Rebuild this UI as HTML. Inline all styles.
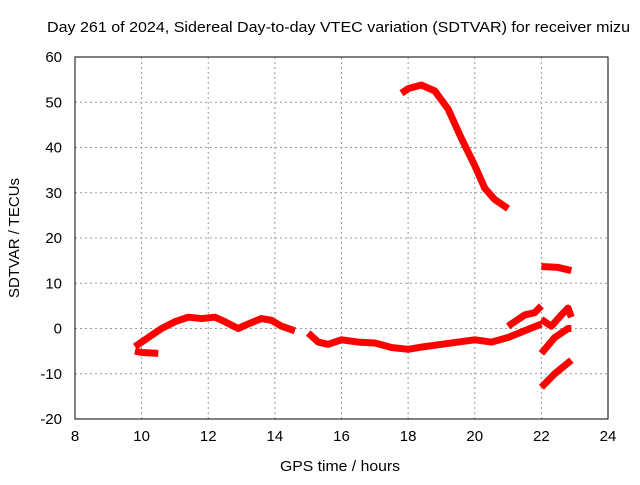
<!DOCTYPE html>
<html><head><meta charset="utf-8"><style>
body{margin:0;background:#fff}
svg text{font-family:"Liberation Sans",sans-serif;font-size:15px;fill:#000}
</style></head><body>
<svg id="chart" width="640" height="480" viewBox="0 0 640 480" xmlns="http://www.w3.org/2000/svg">
<text x="47" y="32" textLength="583" lengthAdjust="spacingAndGlyphs">Day 261 of 2024, Sidereal Day-to-day VTEC variation (SDTVAR) for receiver mizu</text>
<g id="grid"></g><g id="ticks"></g><g id="series"></g>
<rect x="75" y="57" width="533" height="362" fill="none" stroke="#000" stroke-width="1"/>
<text x="340" y="471" text-anchor="middle" textLength="120" lengthAdjust="spacingAndGlyphs">GPS time / hours</text>
<text transform="translate(19,238) rotate(-90)" text-anchor="middle" textLength="120" lengthAdjust="spacingAndGlyphs">SDTVAR / TECUs</text>
</svg>
<script>
const xTicks=[8,10,12,14,16,18,20,22,24];
const yTicks=[-20,-10,0,10,20,30,40,50,60];
const segA=[[9.8,-4],[10.0,-3],[10.3,-1.5],[10.6,0],[11.0,1.5],[11.4,2.5],[11.8,2.2],[12.2,2.5],[12.5,1.5],[12.9,0],[13.2,1],[13.6,2.2],[13.9,1.8],[14.2,0.5],[14.6,-0.5]];
const segA2=[[9.8,-5],[10.0,-5.3],[10.5,-5.5]];
const segB=[[15.0,-1],[15.3,-3],[15.6,-3.5],[16.0,-2.5],[16.5,-3],[17.0,-3.2],[17.5,-4.2],[18.0,-4.6],[18.5,-4],[19.0,-3.5],[19.5,-3],[20.0,-2.5],[20.5,-3],[21.0,-2],[21.5,-0.5],[22.0,1]];
const segC=[[17.8,52],[18.0,53],[18.4,53.8],[18.8,52.5],[19.2,48.5],[19.6,42],[20.0,36],[20.3,31],[20.6,28.5],[21.0,26.5]];
const segD=[[21.0,0.5],[21.3,2],[21.5,3],[21.8,3.5],[22.0,5]];
const segE=[[22.0,13.7],[22.5,13.5],[22.9,12.8]];
const segF=[[22.0,2],[22.3,0.5],[22.6,3],[22.8,4.5],[22.9,2.5]];
const segG=[[22.0,-5.5],[22.4,-2],[22.8,0],[22.9,0]];
const segH=[[22.0,-13],[22.4,-10],[22.9,-7]];
const segments=[segA,segA2,segB,segC,segD,segE,segF,segG,segH];
const NS='http://www.w3.org/2000/svg';
const X=h=>75+(h-8)/16*533, Y=v=>419-(v+20)/80*362;
const grid=document.getElementById('grid'),ticks=document.getElementById('ticks'),ser=document.getElementById('series');
function mk(tag,attrs,parent){const e=document.createElementNS(NS,tag);for(const k in attrs)e.setAttribute(k,attrs[k]);parent.appendChild(e);return e;}
xTicks.forEach(t=>{const x=X(t);
 if(t>8&&t<24){const g=mk('line',{x1:x,x2:x,y1:57,y2:419,stroke:'#999','stroke-dasharray':'2,3'},grid);}
 const l=mk('text',{x:x,y:441,'text-anchor':'middle'},ticks);l.textContent=t;
 });
yTicks.forEach(t=>{const y=Y(t);
 if(t>-20&&t<60){const g=mk('line',{x1:75,x2:608,y1:y,y2:y,stroke:'#999','stroke-dasharray':'2,3'},grid);}
 const l=mk('text',{x:62,y:y+5,'text-anchor':'end'},ticks);l.textContent=t;
 });
segments.forEach(s=>{const p=mk('polyline',{points:s.map(d=>X(d[0])+','+Y(d[1])).join(' '),fill:'none',stroke:'#f00','stroke-width':7,'stroke-linejoin':'round'},ser);
 
 });
</script>
</body></html>
